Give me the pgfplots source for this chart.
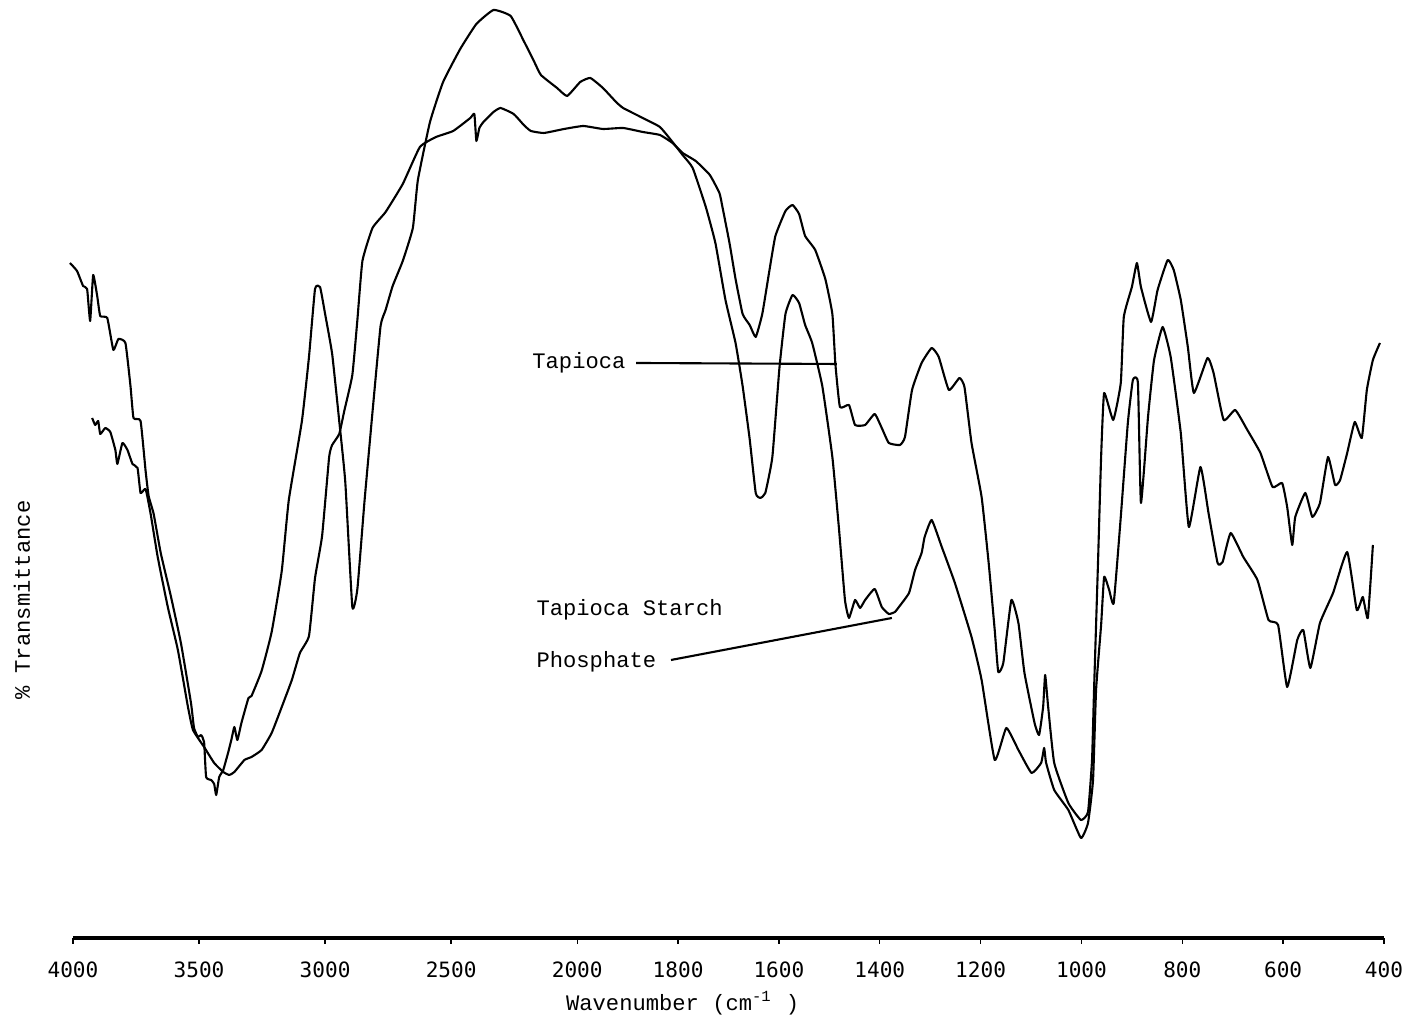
\documentclass[border=0pt]{standalone}
\usepackage{pgfplots}
\pgfplotsset{compat=1.18}
\usepackage{pgfplotstable}
\usepackage{fontspec}
\newfontfamily\typew{Liberation Mono}
\newfontfamily\tickf{DejaVu Sans Mono}

% Tapioca starch phosphate (wavenumber, relative transmittance)
\pgfplotstableread{
nu T
4012 73.7
3984 72.9
3960 71.4
3944 71.1
3932 67.9
3920 72.5
3904 70.4
3892 68.4
3864 68.2
3840 65.0
3820 66.1
3792 65.7
3772 61.4
3760 58.2
3732 57.9
3712 52.9
3700 50.4
3680 48.6
3652 44.7
3612 40.4
3572 35.7
3532 29.7
3520 27.2
3504 26.3
3492 26.5
3480 25.8
3472 22.3
3452 22.0
3440 21.6
3432 20.5
3420 22.3
3404 23.0
3384 24.8
3372 26.0
3360 27.3
3348 26.0
3332 27.7
3304 30.2
3292 30.4
3252 32.9
3212 36.8
3172 42.9
3144 50.0
3092 57.9
3064 64.3
3040 71.1
3020 71.3
3000 68.6
2972 64.6
2944 57.9
2920 51.8
2892 39.3
2872 41.1
2844 49.8
2812 58.8
2780 67.4
2760 69.0
2732 71.4
2692 73.9
2652 77.2
2632 82.0
2584 87.8
2532 91.8
2464 95.1
2400 97.6
2332 99.0
2264 98.4
2212 95.9
2172 93.9
2144 92.5
2080 91.2
2040 90.4
1994 91.8
1974 92.2
1949 91.2
1923 89.8
1909 89.2
1870 88.2
1836 87.3
1811 85.8
1791 84.5
1771 83.2
1745 79.3
1726 75.7
1706 70.0
1686 65.7
1672 61.4
1658 56.1
1646 50.7
1637 50.2
1627 50.7
1613 54.3
1599 63.2
1587 68.6
1573 70.5
1560 69.7
1548 67.5
1534 65.7
1514 61.4
1494 54.3
1481 47.2
1469 40.0
1461 38.2
1449 40.0
1439 39.2
1429 40.0
1410 41.1
1396 39.3
1382 38.6
1370 38.8
1362 39.3
1342 40.7
1330 43.0
1317 44.7
1311 46.3
1297 48.0
1277 45.3
1251 41.7
1218 36.3
1198 32.0
1172 24.0
1149 27.2
1125 25.0
1099 22.7
1080 23.7
1074 25.2
1070 23.7
1054 21.0
1026 19.0
1001 16.2
987 17.7
977 22.0
971 31.0
961 37.5
955 42.3
945 41.0
936 39.7
922 48.3
908 57.7
898 62.0
888 61.7
882 49.7
868 58.3
856 64.0
839 67.3
823 64.3
803 56.7
787 47.3
764 53.3
748 48.7
730 43.7
720 43.8
704 46.7
679 44.3
651 42.0
629 38.0
610 37.5
592 31.3
572 36.0
560 37.0
546 33.2
527 37.7
501 40.7
473 44.8
454 39.0
442 40.3
432 38.2
422 45.5
}\phosphate

% Tapioca starch
\pgfplotstableread{
nu T
3924 58.2
3912 57.5
3900 57.9
3892 56.6
3872 57.2
3852 56.8
3832 55.0
3824 53.6
3804 55.7
3784 55.0
3764 53.6
3744 53.2
3732 50.7
3712 51.1
3692 48.6
3664 44.3
3624 39.3
3584 35.0
3544 29.3
3524 27.0
3480 25.3
3440 23.7
3404 22.8
3380 22.5
3360 22.8
3320 24.0
3292 24.3
3252 25.0
3212 26.7
3172 29.3
3132 32.0
3100 34.7
3064 36.4
3040 42.2
3012 46.4
2984 54.3
2972 55.5
2944 56.6
2924 58.9
2892 62.5
2872 68.0
2852 73.9
2812 77.2
2760 78.8
2692 81.6
2624 85.3
2560 86.3
2492 86.9
2424 88.2
2408 88.6
2400 85.9
2388 87.2
2372 87.8
2332 88.8
2304 89.2
2252 88.6
2212 87.5
2184 86.9
2132 86.7
2052 87.1
1988 87.4
1949 87.1
1909 87.2
1870 86.8
1836 86.5
1811 85.7
1791 84.7
1765 83.9
1737 82.5
1718 80.7
1712 79.3
1698 75.7
1686 72.1
1672 68.6
1658 67.5
1646 66.3
1633 68.6
1619 72.9
1607 76.4
1587 78.9
1573 79.5
1560 78.6
1548 76.4
1528 75.0
1508 72.1
1494 68.6
1488 63.6
1479 59.3
1461 59.5
1449 57.5
1429 57.5
1410 58.6
1396 57.2
1382 55.7
1360 55.5
1350 56.3
1336 61.0
1317 63.7
1297 65.2
1283 64.3
1263 61.0
1242 62.2
1232 61.3
1218 55.7
1198 50.3
1184 43.7
1172 37.0
1165 32.8
1155 33.7
1139 40.0
1125 37.7
1113 32.7
1093 27.7
1084 26.5
1076 29.3
1072 32.5
1066 29.3
1054 23.7
1026 19.7
1001 18.0
987 18.8
979 24.0
975 31.0
967 44.0
961 54.3
955 60.7
937 58.0
922 61.7
916 68.3
900 71.3
890 73.7
882 71.3
862 67.8
849 71.0
829 74.0
817 73.0
803 70.0
789 65.3
777 60.7
750 64.2
738 62.7
718 58.0
695 59.0
671 57.0
645 54.7
621 51.3
602 51.7
592 49.3
582 45.5
576 48.3
556 50.7
542 48.3
527 49.7
511 54.3
497 51.5
487 52.0
473 54.7
458 57.8
444 56.2
434 61.0
422 64.0
408 65.7
}\tapioca

\begin{document}
\begin{tikzpicture}
\path[use as bounding box] (0,0) rectangle (14.16cm,10.22cm);
\begin{axis}[
  at={(0.73cm,0.84cm)}, anchor=south west,
  scale only axis, width=13.11cm, height=9.38cm,
  xmin=0, xmax=2600, ymin=6.2, ymax=100,
  axis x line*=bottom, axis y line=none,
  clip=false,
  xtick={0,250,500,750,1000,1200,1400,1600,1800,2000,2200,2400,2600},
  xticklabels={4000,3500,3000,2500,2000,1800,1600,1400,1200,1000,800,600,400},
  tick align=outside, major tick length=0.06cm,
  tick style={black, line width=0.4pt},
  x axis line style={line width=1.1pt},
  every x tick label/.append style={font=\tickf\fontsize{6.0}{7}\selectfont, yshift=-0.05cm},
]
\addplot[black, line width=0.6pt, line join=round, smooth, tension=0.25] table[x expr={\thisrow{nu}>=2000 ? (4000-\thisrow{nu})/2 : 3000-\thisrow{nu}}, y=T] {\phosphate};
\addplot[black, line width=0.6pt, line join=round, smooth, tension=0.25] table[x expr={\thisrow{nu}>=2000 ? (4000-\thisrow{nu})/2 : 3000-\thisrow{nu}}, y=T] {\tapioca};

\node[anchor=east, inner sep=0pt, font=\typew\fontsize{6.3}{7}\selectfont] at (axis cs:1097,63.7) {Tapioca};
\draw[black, line width=0.6pt] (axis cs:1117,63.7) -- (axis cs:1515,63.6);
\node[anchor=west, inner sep=0pt, font=\typew\fontsize{6.3}{7}\selectfont] at (axis cs:918,39.0) {Tapioca Starch};
\node[anchor=west, inner sep=0pt, font=\typew\fontsize{6.3}{7}\selectfont] at (axis cs:918,33.8) {Phosphate};
\draw[black, line width=0.6pt] (axis cs:1186,34.0) -- (axis cs:1624,38.2);

\node[font=\typew\fontsize{6.3}{7}\selectfont, xshift=-0.51cm, rotate=90] at (rel axis cs:0,0.36) {\% Transmittance};
\node[font=\typew\fontsize{6.3}{7}\selectfont] at (rel axis cs:0.465,0) [yshift=-0.65cm] {Wavenumber (cm\textsuperscript{-1} )};
\end{axis}
\end{tikzpicture}
\end{document}
